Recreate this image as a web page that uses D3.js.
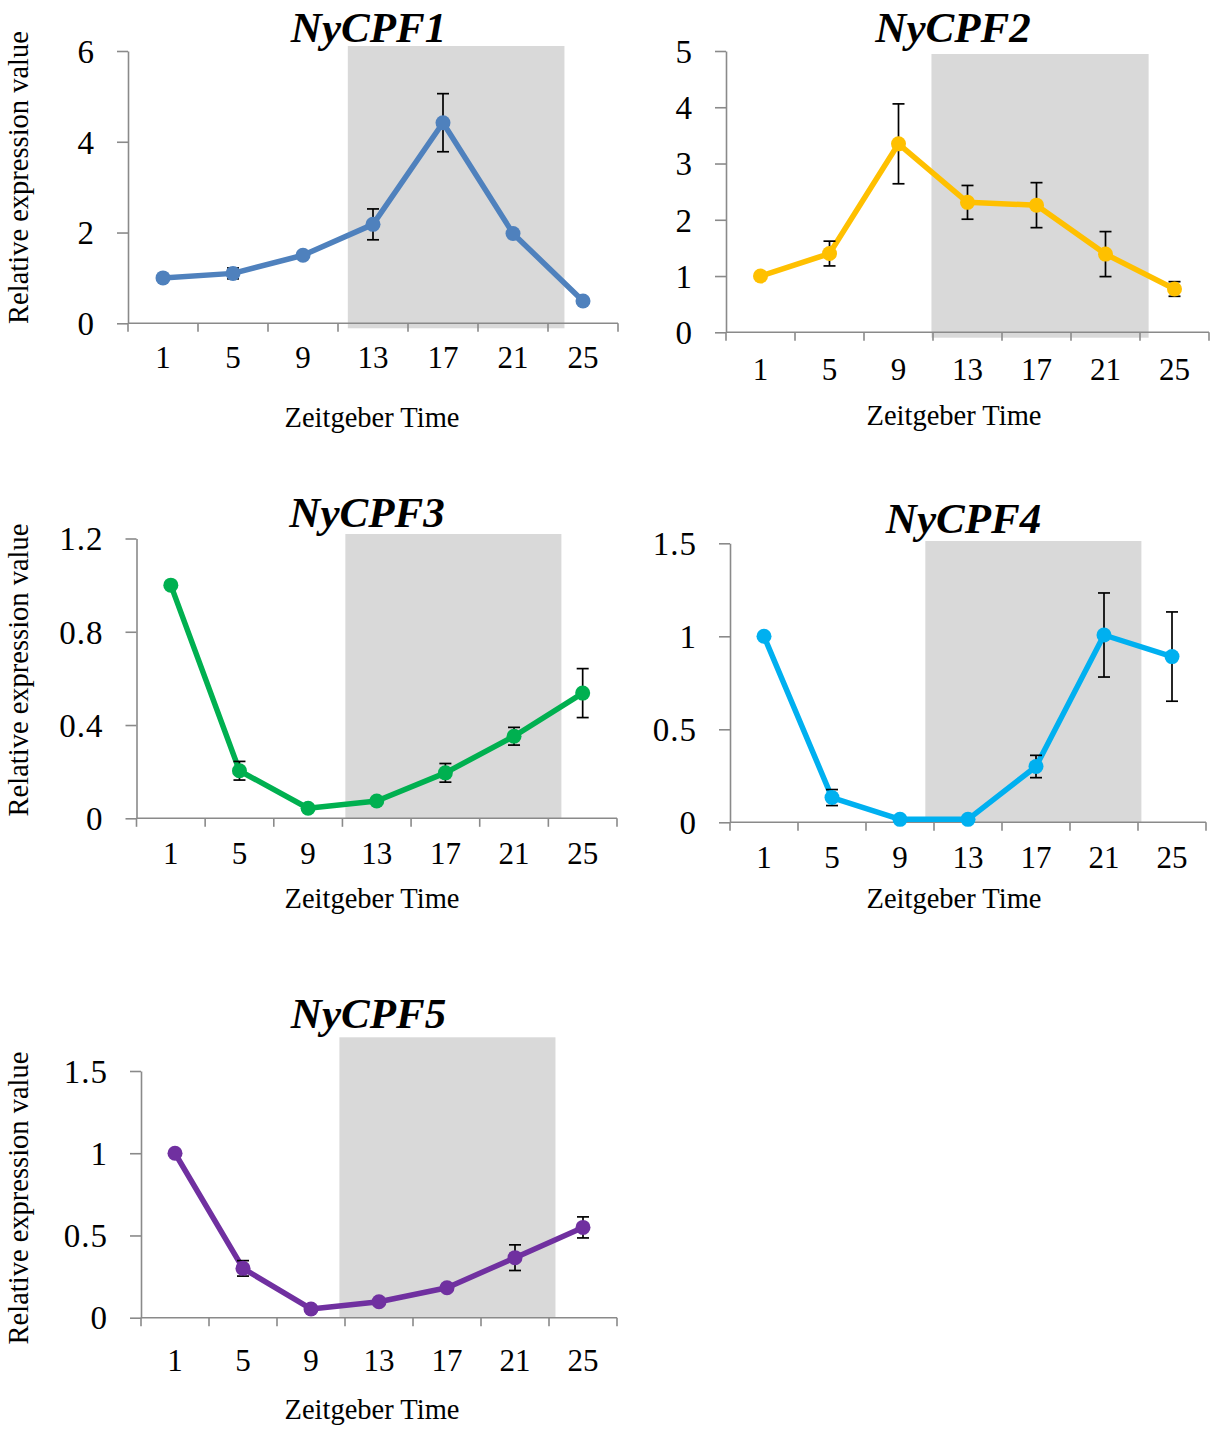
<!DOCTYPE html>
<html>
<head>
<meta charset="utf-8">
<script src="https://cdn.jsdelivr.net/npm/d3@7"></script>
<style>
  html, body { margin: 0; padding: 0; background: #fff; }
  svg { display: block; }
  svg text { font-family: "Liberation Serif", "Times New Roman", serif !important; fill: #000; }
</style>
</head>
<body>
<svg id="chart" width="1218" height="1429"></svg>
<script>
// ---------------- DATA ----------------
const zeitgeberTimes = ["1", "5", "9", "13", "17", "21", "25"];
const geneNames = ["NyCPF1", "NyCPF2", "NyCPF3", "NyCPF4", "NyCPF5"];

const cpf1Values = [1.00, 1.10, 1.50, 2.18, 4.42, 1.98, 0.49];
const cpf1Errors = [0.00, 0.12, 0.04, 0.34, 0.64, 0.06, 0.06];
const cpf2Values = [1.00, 1.40, 3.35, 2.31, 2.26, 1.39, 0.77];
const cpf2Errors = [0.00, 0.22, 0.71, 0.30, 0.40, 0.40, 0.13];
const cpf3Values = [1.00, 0.204, 0.043, 0.074, 0.195, 0.352, 0.537];
const cpf3Errors = [0.00, 0.040, 0.005, 0.005, 0.040, 0.038, 0.105];
const cpf4Values = [1.00, 0.133, 0.016, 0.016, 0.300, 1.007, 0.891];
const cpf4Errors = [0.00, 0.043, 0.005, 0.005, 0.060, 0.226, 0.240];
const cpf5Values = [1.00, 0.300, 0.053, 0.097, 0.182, 0.365, 0.549];
const cpf5Errors = [0.00, 0.047, 0.005, 0.010, 0.020, 0.078, 0.064];

const yMaxValues = [6, 5, 1.2, 1.5, 1.5];
const yTickValues = [
  [0, 2, 4, 6],
  [0, 1, 2, 3, 4, 5],
  [0, 0.4, 0.8, 1.2],
  [0, 0.5, 1, 1.5],
  [0, 0.5, 1, 1.5]
];
// dark (shaded) period in Zeitgeber time units, per panel
const darkStart = [11.56, 10.91, 11.17, 10.49, 10.67];
const darkEnd   = [23.94, 23.50, 23.76, 23.20, 23.38];

const seriesColors = ["#4F81BD", "#FFC000", "#00B050", "#00B0F0", "#7030A0"];
const showYTitle = [true, false, true, false, true];
const xTitleText = "Zeitgeber Time";
const yTitleText = "Relative expression value";

// ---------------- LAYOUT ----------------
const plotLeft   = [128, 726, 136.5, 730, 141];
const plotRight  = [618, 1209, 617, 1206, 617];
const plotTop    = [51, 51, 538.5, 543.3, 1071];
const plotBottom = [323.3, 332.3, 818.3, 822.3, 1317.7];
const shadeTop   = [46, 54, 534, 541, 1037.3];
const shadeBot   = [328.3, 337.7, 818.3, 822.3, 1317.7];
const titleX     = [368.5, 953, 367, 963.5, 368.5];
const titleY     = [41.7, 41.7, 526.7, 533, 1028.3];
const xTitleX    = [372, 954, 372, 954, 372];
const xTitleY    = [427, 425, 908, 908, 1419];
const xLabelOff  = [45, 48, 46, 46, 53];
const yTitleCY   = [177.5, 0, 670, 0, 1198];

const valueSets = [cpf1Values, cpf2Values, cpf3Values, cpf4Values, cpf5Values];
const errorSets = [cpf1Errors, cpf2Errors, cpf3Errors, cpf4Errors, cpf5Errors];

const AXIS_COLOR = "#8a8a8a";
const FONT = '"Liberation Serif", "Times New Roman", serif';
const svg = d3.select("#chart");

geneNames.forEach((gene, p) => {
  const g = svg.append("g");
  const L = plotLeft[p], R = plotRight[p], T = plotTop[p], B = plotBottom[p];

  const xBand = d3.scaleBand().domain(zeitgeberTimes).range([L, R]).padding(0);
  const xc = d => xBand(d) + xBand.bandwidth() / 2;
  const xTime = d3.scaleLinear()
    .domain([+zeitgeberTimes[0], +zeitgeberTimes[zeitgeberTimes.length - 1]])
    .range([xc(zeitgeberTimes[0]), xc(zeitgeberTimes[zeitgeberTimes.length - 1])]);
  const y = d3.scaleLinear().domain([0, yMaxValues[p]]).range([B, T]);

  // shaded dark period
  g.append("rect")
    .attr("x", xTime(darkStart[p]))
    .attr("width", xTime(darkEnd[p]) - xTime(darkStart[p]))
    .attr("y", shadeTop[p])
    .attr("height", shadeBot[p] - shadeTop[p])
    .attr("fill", "#D9D9D9");

  // y axis
  const yAxis = d3.axisLeft(y)
    .tickValues(yTickValues[p])
    .tickFormat(d => String(d))
    .tickSize(11)
    .tickSizeOuter(0)
    .tickPadding(22);
  const ya = g.append("g").attr("transform", `translate(${L},0)`).call(yAxis)
    .attr("font-family", null).attr("font-size", null);
  ya.select(".domain").attr("stroke", AXIS_COLOR).attr("stroke-width", 1.6);
  ya.selectAll(".tick line").attr("stroke", AXIS_COLOR).attr("stroke-width", 1.6);
  ya.selectAll(".tick text")
    .style("font-size", "33px")
    .style("font-family", FONT)
    .attr("fill", "#000")
    .attr("dy", "0.34em")
    .attr("letter-spacing", 1);

  // x axis: labels centred in categories, tick marks between categories
  const xAxis = d3.axisBottom(xBand).tickSize(0).tickSizeOuter(0).tickPadding(0);
  const xa = g.append("g").attr("transform", `translate(0,${B})`).call(xAxis)
    .attr("font-family", null).attr("font-size", null);
  xa.select(".domain").remove();
  xa.selectAll(".tick text")
    .style("font-size", "31px")
    .style("font-family", FONT)
    .attr("fill", "#000")
    .attr("y", xLabelOff[p])
    .attr("dy", 0);
  g.append("line")
    .attr("x1", L).attr("x2", R).attr("y1", B).attr("y2", B)
    .attr("stroke", AXIS_COLOR).attr("stroke-width", 1.6);
  const boundaries = zeitgeberTimes.map(d => xBand(d)).concat([R]);
  g.selectAll(".xtick").data(boundaries).enter().append("line")
    .attr("x1", d => d).attr("x2", d => d)
    .attr("y1", B).attr("y2", B + 8.5)
    .attr("stroke", AXIS_COLOR).attr("stroke-width", 1.6);

  const pts = zeitgeberTimes.map((t, i) => ({ t, v: valueSets[p][i], e: errorSets[p][i] }));

  // line
  const line = d3.line().x(d => xc(d.t)).y(d => y(d.v));
  g.append("path").datum(pts)
    .attr("d", line)
    .attr("fill", "none")
    .attr("stroke", seriesColors[p])
    .attr("stroke-width", 5.5)
    .attr("stroke-linejoin", "round");

  // error bars
  const eb = g.selectAll(".eb").data(pts.filter(d => d.e > 0)).enter().append("g");
  eb.append("line")
    .attr("x1", d => xc(d.t)).attr("x2", d => xc(d.t))
    .attr("y1", d => y(d.v - d.e)).attr("y2", d => y(d.v + d.e))
    .attr("stroke", "#000").attr("stroke-width", 1.7);
  eb.append("line")
    .attr("x1", d => xc(d.t) - 6).attr("x2", d => xc(d.t) + 6)
    .attr("y1", d => y(d.v + d.e)).attr("y2", d => y(d.v + d.e))
    .attr("stroke", "#000").attr("stroke-width", 1.7);
  eb.append("line")
    .attr("x1", d => xc(d.t) - 6).attr("x2", d => xc(d.t) + 6)
    .attr("y1", d => y(d.v - d.e)).attr("y2", d => y(d.v - d.e))
    .attr("stroke", "#000").attr("stroke-width", 1.7);

  // markers
  g.selectAll(".mk").data(pts).enter().append("circle")
    .attr("cx", d => xc(d.t)).attr("cy", d => y(d.v))
    .attr("r", 7.5)
    .attr("fill", seriesColors[p]);

  // title
  g.append("text")
    .attr("x", titleX[p]).attr("y", titleY[p])
    .attr("text-anchor", "middle")
    .style("font-size", "43px")
    .style("font-weight", "bold")
    .style("font-style", "italic")
    .text(gene);

  // x title
  g.append("text")
    .attr("x", xTitleX[p]).attr("y", xTitleY[p])
    .attr("text-anchor", "middle")
    .style("font-size", "28.5px")
    .text(xTitleText);

  // y title
  if (showYTitle[p]) {
    g.append("text")
      .attr("transform", `translate(28,${yTitleCY[p]}) rotate(-90)`)
      .attr("text-anchor", "middle")
      .style("font-size", "28.5px")
      .text(yTitleText);
  }
});
</script>
</body>
</html>
